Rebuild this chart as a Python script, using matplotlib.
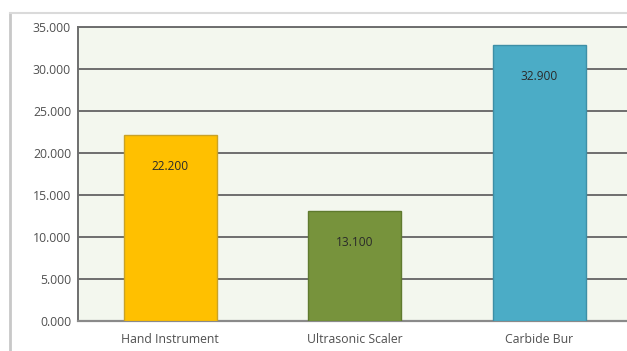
import matplotlib.pyplot as plt
from matplotlib.lines import Line2D

categories = ["Hand Instrument", "Ultrasonic Scaler", "Carbide Bur"]
values = [22.2, 13.1, 32.9]
bar_colors = ["#FFC000", "#77933C", "#4BACC6"]
edge_colors = ["#C9A227", "#5F7A2E", "#3D8FA6"]
yticks = [0, 5, 10, 15, 20, 25, 30, 35]

plt.rcParams['font.family'] = ['Open Sans', 'DejaVu Sans']

fig = plt.figure(figsize=(6.27, 3.51), dpi=100)
ax = fig.add_axes([0.1244, 0.0855, 0.8828, 0.8376])
ax.set_facecolor("#F3F7EE")

x = list(range(len(categories)))
bars = ax.bar(x, values, width=0.505, color=bar_colors, edgecolor=edge_colors,
              linewidth=1, zorder=3)

for b, v in zip(bars, values):
    ax.annotate(f"{v:.3f}", (b.get_x() + b.get_width() / 2, v),
                xytext=(0, -32), textcoords="offset pixels",
                ha="center", va="center", fontsize=8.6, color="#2A2A2A", zorder=4)

ax.set_xlim(-0.5, 2.5)
ax.set_ylim(0, 35)
ax.set_yticks(yticks)
ax.set_yticklabels([f"{t:.3f}" for t in yticks])
ax.set_xticks(x)
ax.set_xticklabels(categories)
ax.tick_params(axis="both", length=0, labelsize=8.8, colors="#505050")
ax.tick_params(axis="y", pad=5)
ax.tick_params(axis="x", pad=8.5)
ax.grid(axis="y", color="#6E6E6E", linewidth=1.4, zorder=1)
ax.set_axisbelow(True)

ax.spines["right"].set_visible(False)
ax.spines["left"].set_color("#6E6E6E")
ax.spines["left"].set_linewidth(1.4)
ax.spines["bottom"].set_color("#8A8A8A")
ax.spines["bottom"].set_linewidth(1.6)
ax.spines["top"].set_color("#6E6E6E")
ax.spines["top"].set_linewidth(1.4)

# outer chart frame (left and top edges)
fig.add_artist(Line2D([10 / 627, 10 / 627], [0, 1 - 13 / 351], color="#C8C8C8", lw=2))
fig.add_artist(Line2D([10 / 627, 1], [1 - 13 / 351, 1 - 13 / 351], color="#DADADA", lw=1.5))

fig.savefig("out.png", dpi=100)
